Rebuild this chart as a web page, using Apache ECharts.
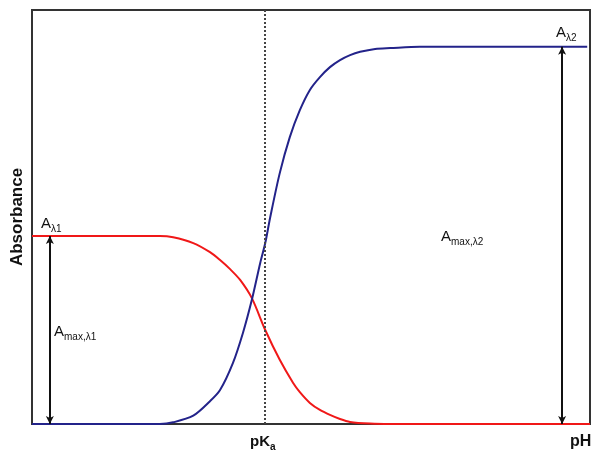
<!DOCTYPE html>
<html>
<head>
<meta charset="utf-8">
<script src="https://cdn.jsdelivr.net/npm/echarts@6/dist/echarts.min.js"></script>
<style>
  html, body { margin: 0; padding: 0; background: #fff; }
  #main { width: 592px; height: 454px; }
</style>
</head>
<body>
<div id="main"></div>
<script>
// curves (x: 0..100 along pH, y: 0..1 absorbance)
const blueX = [0, 22.9, 25.3, 28.9, 31.9, 33.7, 36.0, 37.8, 39.4, 40.9, 41.8, 42.7, 44.4, 46.2, 48.0, 49.8, 51.6, 53.4, 55.2, 57.0, 58.8, 61.5, 64.2, 69.5, 99.5]
const blueY = [0, 0, 0.004, 0.02, 0.055, 0.082, 0.147, 0.22, 0.30, 0.389, 0.437, 0.50, 0.606, 0.693, 0.758, 0.807, 0.838, 0.862, 0.879, 0.891, 0.899, 0.906, 0.908, 0.911, 0.911]
const redX = [0, 22.9, 25.3, 28.9, 31.9, 33.7, 35.5, 37.3, 39.4, 41.8, 44.4, 46.8, 48.0, 49.8, 51.6, 53.4, 55.2, 57.0, 60.6, 64.2, 100]
const redY = [0.454, 0.454, 0.451, 0.437, 0.415, 0.396, 0.374, 0.348, 0.304, 0.227, 0.155, 0.099, 0.077, 0.051, 0.034, 0.022, 0.012, 0.005, 0.001, 0, 0]
const pKa = 41.8
const arrow1 = [3.2, 0.454]
const arrow2 = [95, 0.911]

const font = 'Liberation Sans, Arial, sans-serif'
const sub = { fontSize: 10, fontFamily: font, color: '#222', verticalAlign: 'bottom', lineHeight: 20 }

const myChart = echarts.init(document.getElementById('main'))
myChart.setOption({
  animation: false,
  grid: {
    left: 32,
    right: 2,
    top: 10,
    bottom: 30,
    show: true,
    borderColor: '#333',
    borderWidth: 2
  },
  xAxis: {
    type: 'value',
    min: 0,
    max: 100,
    axisLine: { show: false },
    axisTick: { show: false },
    axisLabel: { show: false },
    splitLine: { show: false }
  },
  yAxis: {
    type: 'value',
    min: 0,
    max: 1,
    name: 'Absorbance',
    nameLocation: 'middle',
    nameGap: 6,
    nameTextStyle: { fontSize: 17, fontWeight: 'bold', fontFamily: font, color: '#111' },
    axisLine: { show: false },
    axisTick: { show: false },
    axisLabel: { show: false },
    splitLine: { show: false }
  },
  series: [
    {
      name: 'red',
      type: 'line',
      smooth: 0.3,
      showSymbol: false,
      lineStyle: { color: '#f01818', width: 2 },
      data: redX.map((x, i) => [x, redY[i]]),
      markLine: {
        silent: true,
        symbol: ['arrow', 'arrow'],
        symbolSize: [6, 8],
        label: { show: false },
        lineStyle: { color: '#111', width: 2, type: 'solid' },
        data: [
          [{ coord: [arrow1[0], 0] }, { coord: [arrow1[0], arrow1[1]] }],
          [{ coord: [arrow2[0], 0] }, { coord: [arrow2[0], arrow2[1]] }]
        ]
      }
    },
    {
      name: 'blue',
      type: 'line',
      smooth: 0.3,
      showSymbol: false,
      lineStyle: { color: '#23238a', width: 2 },
      data: blueX.map((x, i) => [x, blueY[i]]),
      markLine: {
        silent: true,
        symbol: ['none', 'none'],
        label: { show: false },
        lineStyle: { color: '#444', width: 2, type: [2, 2] },
        data: [{ xAxis: pKa }]
      }
    }
  ],
  graphic: [
    {
      type: 'text', left: 41, top: 214,
      style: { text: 'A{s|λ1}', fontSize: 15, fontFamily: font, fill: '#111', lineHeight: 20, rich: { s: sub } }
    },
    {
      type: 'text', left: 54, top: 322,
      style: { text: 'A{s|max,λ1}', fontSize: 15, fontFamily: font, fill: '#111', lineHeight: 20, rich: { s: sub } }
    },
    {
      type: 'text', left: 441, top: 227,
      style: { text: 'A{s|max,λ2}', fontSize: 15, fontFamily: font, fill: '#111', lineHeight: 20, rich: { s: sub } }
    },
    {
      type: 'text', left: 556, top: 23,
      style: { text: 'A{s|λ2}', fontSize: 15, fontFamily: font, fill: '#111', lineHeight: 20, rich: { s: sub } }
    },
    {
      type: 'text', left: 250, top: 432,
      style: { text: 'pK{s|a}', fontSize: 15, fontWeight: 'bold', fontFamily: font, fill: '#111', lineHeight: 20,
        rich: { s: { fontSize: 10, fontWeight: 'bold', fontFamily: font, verticalAlign: 'bottom', lineHeight: 20 } } }
    },
    {
      type: 'text', left: 570, top: 434,
      style: { text: 'pH', fontSize: 16, fontWeight: 'bold', fontFamily: font, fill: '#111' }
    }
  ]
})
</script>
</body>
</html>
